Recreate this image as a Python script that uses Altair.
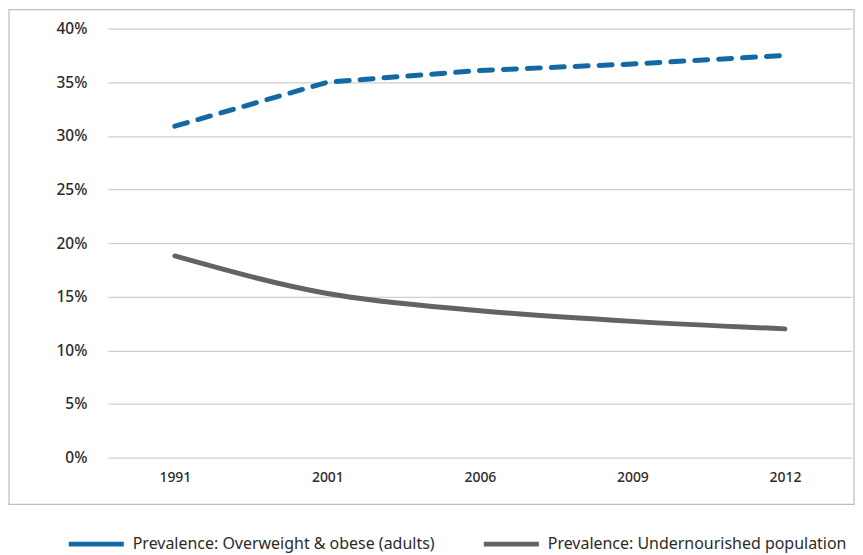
import altair as alt
import pandas as pd

years = ["1991", "2001", "2006", "2009", "2012"]
overweight = [30.9, 35.0, 36.1, 36.7, 37.5]
undernourished = [18.8, 15.3, 13.7, 12.7, 12.0]
series_names = ["Prevalence: Overweight & obese (adults)", "Prevalence: Undernourished population"]
series_colors = ["#1369a3", "#636363"]

rows = []
for y, v in zip(years, overweight):
    rows.append({"year": y, "value": v / 100, "series": series_names[0], "dash": "a"})
for y, v in zip(years, undernourished):
    rows.append({"year": y, "value": v / 100, "series": series_names[1], "dash": "b"})
df = pd.DataFrame(rows)

W, H = 746, 430
FONT = "Noto Sans"

x_enc = alt.X("year:N", sort=years, title=None,
              scale=alt.Scale(type="point", padding=0.44),
              axis=alt.Axis(labelAngle=0, domain=False, ticks=False, grid=False,
                            labelPadding=13, labelFontSize=14, labelColor="#2b2b2b",
                            labelFont=FONT, labelFontWeight=500))
y_enc = alt.Y("value:Q", title=None,
              scale=alt.Scale(domain=[0, 0.4], nice=False),
              axis=alt.Axis(format=".0%", values=[i / 100 for i in range(0, 41, 5)],
                            domain=False, ticks=False, grid=True, gridColor="#cfcfcf",
                            gridWidth=1.2, labelPadding=21, labelFontSize=15.5,
                            labelColor="#2b2b2b", labelFont=FONT, labelFontWeight=500))

color_enc = alt.Color("series:N", sort=series_names,
                      scale=alt.Scale(domain=series_names, range=series_colors),
                      legend=alt.Legend(title=None, orient="none", legendX=-22, legendY=506,
                                        direction="horizontal",
                                        symbolType="M-3.45,0H3.45",
                                        symbolSize=256, symbolStrokeWidth=5,
                                        labelFont=FONT, labelFontSize=16, labelColor="#2b2b2b",
                                        labelLimit=400, columnPadding=38, labelOffset=26))

base = alt.Chart(df).encode(x=x_enc, y=y_enc, color=color_enc)

blue = base.transform_filter(alt.datum.dash == "a").mark_line(
    strokeWidth=5, strokeCap="round", strokeDash=[13, 11])
gray = base.transform_filter(alt.datum.dash == "b").mark_line(
    strokeWidth=5, strokeCap="round", interpolate="monotone")

frame = alt.Chart(pd.DataFrame({"a": [0]})).mark_rect(
    fill=None, stroke="#bdbdbd", strokeWidth=1.2
).encode(
    x=alt.value(-99), x2=alt.value(W + 2),
    y=alt.value(-19), y2=alt.value(H + 47),
)

chart = alt.layer(frame, blue, gray).properties(
    width=W, height=H,
    padding={"left": 0, "top": 0, "right": 0, "bottom": 0},
    background="white",
).configure_view(stroke=None)

chart.save("out.html", embed_options={"renderer": "svg", "actions": False})
